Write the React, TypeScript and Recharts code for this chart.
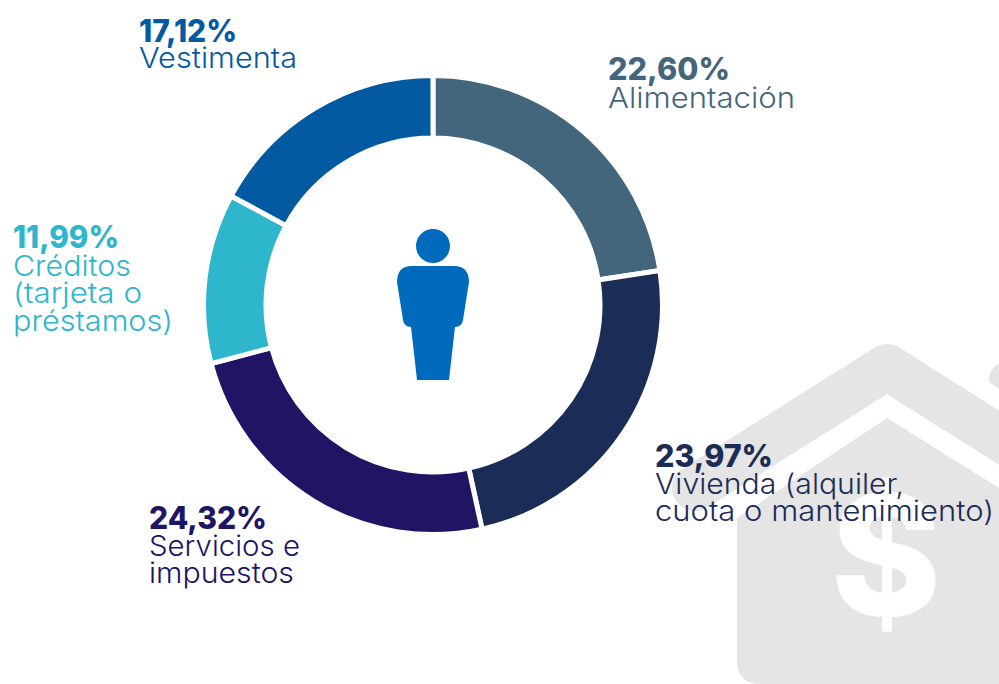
import { PieChart, Pie, Cell } from "recharts";

const categories = ["Alimentación", "Vivienda", "Servicios", "Créditos", "Vestimenta"];
const shares = [22.6, 23.97, 24.32, 11.99, 17.12];
const captionLines = [
  ["Alimentación"],
  ["Vivienda (alquiler,", "cuota o mantenimiento)"],
  ["Servicios e", "impuestos"],
  ["Créditos", "(tarjeta o", "préstamos)"],
  ["Vestimenta"],
];
const colors = ["#43667c", "#1b2c56", "#201465", "#2db6cc", "#045aa0"];

const chartData = categories.map((name, i) => ({ name, value: shares[i] }));

// where each caption sits: left edge, baselines and text widths
const captionLayout = [
  { x: 608, ys: [80, 108], widths: [122, 187] },
  { x: 655, ys: [467, 494, 521], widths: [118, 249, 339] },
  { x: 149, ys: [529, 556, 583], widths: [118, 151, 145] },
  { x: 13, ys: [248, 276, 303, 331], widths: [106, 118, 129, 160] },
  { x: 139, ys: [42, 68], widths: [98, 158] },
];

const font = "Inter, 'Open Sans', sans-serif";

function SliceCaption({ index }: { index: number }) {
  const layout = captionLayout[index];
  const color = colors[index];
  const percent = shares[index].toFixed(2).replace(".", ",") + "%";
  return (
    <g fontFamily={font} fill={color}>
      <text
        x={layout.x}
        y={layout.ys[0]}
        fontSize={31}
        fontWeight={800}
        textLength={layout.widths[0]}
        lengthAdjust="spacingAndGlyphs"
      >
        {percent}
      </text>
      {captionLines[index].map((line, i) => (
        <text
          key={line}
          x={layout.x}
          y={layout.ys[i + 1]}
          fontSize={28}
          fontWeight={300}
          textLength={layout.widths[i + 1]}
          lengthAdjust="spacingAndGlyphs"
        >
          {line}
        </text>
      ))}
    </g>
  );
}

function HouseBackdrop() {
  return (
    <svg width={999} height={684} style={{ position: "absolute", left: 0, top: 0 }}>
      <polyline
        points="695,488 887,367 1060,476"
        fill="none"
        stroke="#e5e5e5"
        strokeWidth={46}
        strokeLinecap="round"
        strokeLinejoin="round"
      />
      <path
        d="M887 418 L737 518 L737 660 Q737 684 761 684 L999 684 L999 488 Z"
        fill="#e5e5e5"
      />
      <path d="M999 363 Q988 370 989 382 L999 389 Z" fill="#e5e5e5" />
      <text
        x={886}
        y={616}
        textAnchor="middle"
        fontFamily={font}
        fontSize={168}
        fontWeight={800}
        fill="#ffffff"
      >
        $
      </text>
    </svg>
  );
}

function PersonIcon() {
  return (
    <g fill="#006bbd">
      <circle cx={433} cy={246} r={17} />
      <path d="M412 266 L454 266 Q469 266 469 282 L463 320 Q462 327 455 327 L449 380 L417 380 L411 327 Q404 327 403 320 L397 282 Q397 266 412 266 Z" />
    </g>
  );
}

export default function App() {
  return (
    <div
      style={{
        position: "absolute",
        left: 0,
        top: 0,
        width: 999,
        height: 684,
        overflow: "hidden",
        background: "#ffffff",
      }}
    >
      <HouseBackdrop />
      <div style={{ position: "absolute", left: 0, top: 0 }}>
        <PieChart width={999} height={684} margin={{ top: 0, right: 0, bottom: 0, left: 0 }}>
          <Pie
            data={chartData}
            dataKey="value"
            nameKey="name"
            cx={433}
            cy={305}
            innerRadius={167}
            outerRadius={229.5}
            startAngle={90}
            endAngle={-270}
            stroke="#ffffff"
            strokeWidth={5}
            isAnimationActive={false}
            labelLine={false}
            label={(props: any) => <SliceCaption index={props.index} />}
          >
            {chartData.map((entry, i) => (
              <Cell key={entry.name} fill={colors[i]} />
            ))}
          </Pie>
          <PersonIcon />
        </PieChart>
      </div>
    </div>
  );
}
